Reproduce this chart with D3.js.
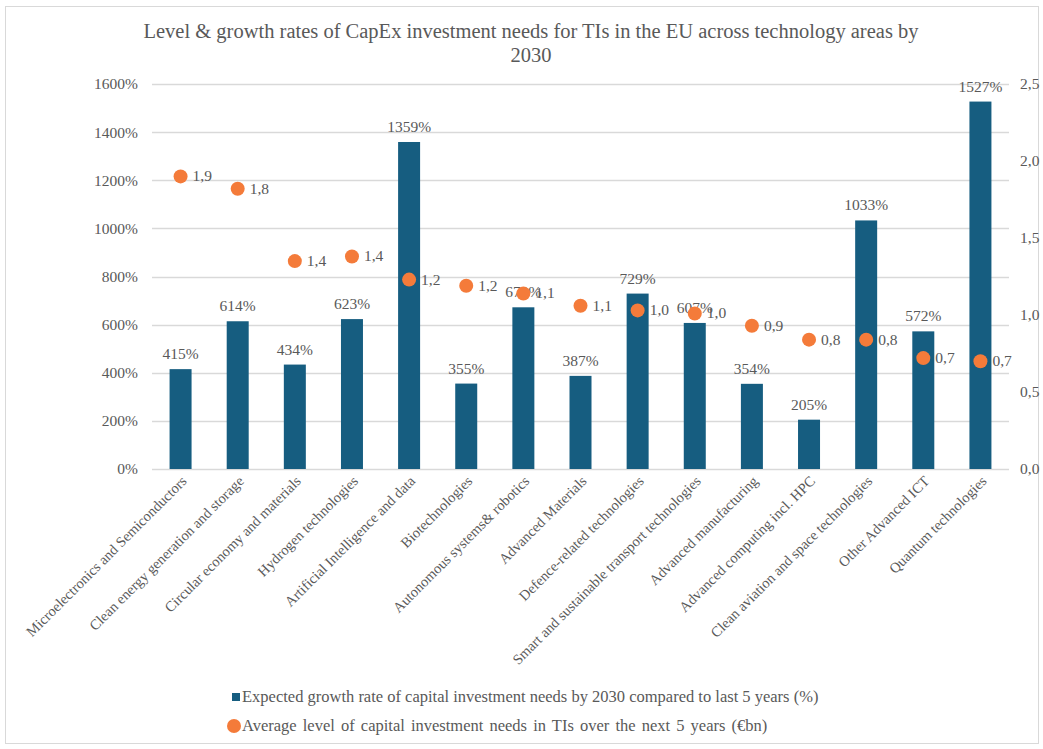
<!DOCTYPE html>
<html>
<head>
<meta charset="utf-8">
<script src="https://cdn.jsdelivr.net/npm/d3@7"></script>
<style>
body { margin: 0; background: #fff; }
</style>
</head>
<body>
<div id="chart"></div>
<script>
var categories = ["Microelectronics and Semiconductors", "Clean energy generation and storage",
    "Circular economy and materials", "Hydrogen technologies", "Artificial Intelligence and data",
    "Biotechnologies", "Autonomous systems& robotics", "Advanced Materials",
    "Defence-related technologies", "Smart and sustainable transport technologies",
    "Advanced manufacturing", "Advanced computing incl. HPC", "Clean aviation and space technologies",
    "Other Advanced ICT", "Quantum technologies"];
var growth = [415, 614, 434, 623, 1359, 355, 672, 387, 729, 607, 354, 205, 1033, 572, 1527];
var level = [1.90, 1.82, 1.35, 1.38, 1.23, 1.19, 1.14, 1.06, 1.03, 1.01, 0.93, 0.84, 0.84, 0.72, 0.70];
var leftTicks = [0, 200, 400, 600, 800, 1000, 1200, 1400, 1600];
var rightTicks = [0, 0.5, 1.0, 1.5, 2.0, 2.5];

var FONT = "'Liberation Serif', serif";
var W = 1043, H = 749;
var margin = {top: 84, right: 34, bottom: 280, left: 152};
var width = W - margin.left - margin.right,
    height = H - margin.top - margin.bottom;

var svg = d3.select("#chart").append("svg")
    .attr("width", W)
    .attr("height", H);

svg.append("rect")
    .attr("x", 5.5).attr("y", 6.5)
    .attr("width", W - 10).attr("height", H - 12)
    .attr("fill", "none")
    .attr("stroke", "#d9d9d9");

function txt(sel, size) {
    return sel.style("font-family", FONT).style("font-size", size + "px").attr("fill", "#595959");
}

txt(svg.append("text"), 20.5)
    .attr("text-anchor", "middle")
    .attr("x", 531).attr("y", 38)
    .text("Level & growth rates of CapEx investment needs for TIs in the EU across technology  areas by");
txt(svg.append("text"), 20.5)
    .attr("text-anchor", "middle")
    .attr("x", 531).attr("y", 62)
    .text("2030");

var g = svg.append("g")
    .attr("transform", "translate(" + margin.left + "," + margin.top + ")");

var x = d3.scaleBand().domain(categories).range([0, width]).paddingInner(0.615).paddingOuter(0.3075);
var y = d3.scaleLinear().domain([0, 1600]).range([height, 0]);
var y2 = d3.scaleLinear().domain([0, 2.5]).range([height, 0]);

// gridlines
g.selectAll(".grid")
    .data(leftTicks)
    .enter()
    .append("line")
        .attr("x1", 0).attr("x2", width)
        .attr("y1", function(d) { return Math.round(y(d)) + 0.5; })
        .attr("y2", function(d) { return Math.round(y(d)) + 0.5; })
        .attr("stroke", "#d9d9d9")
        .attr("stroke-width", 1.3);

// left axis
var yAxis = g.append("g")
    .call(d3.axisLeft(y).tickValues(leftTicks).tickSize(0).tickPadding(14).tickFormat(function(d) { return d + "%"; }));
yAxis.select(".domain").remove();
txt(yAxis.selectAll("text"), 15.5);

// right axis
var y2Axis = g.append("g")
    .attr("transform", "translate(" + width + ",0)")
    .call(d3.axisRight(y2).tickValues(rightTicks).tickSize(0).tickPadding(11).tickFormat(function(d) { return d3.format(".1f")(d).replace(".", ","); }));
y2Axis.select(".domain").remove();
txt(y2Axis.selectAll("text"), 15.5);

// x axis labels
var xAxis = g.append("g")
    .attr("transform", "translate(0," + height + ")")
    .call(d3.axisBottom(x).tickSize(0).tickPadding(0));
xAxis.select(".domain").remove();
txt(xAxis.selectAll("text"), 14.5)
    .attr("text-anchor", "end")
    .attr("dy", "0")
    .attr("transform", "translate(7,13) rotate(-45)");

// bars
g.selectAll(".bar")
    .data(growth)
    .enter()
    .append("rect")
        .attr("x", function(d, i) { return x(categories[i]); })
        .attr("y", function(d) { return y(d); })
        .attr("width", x.bandwidth())
        .attr("height", function(d) { return height - y(d); })
        .attr("fill", "#165d80");

txt(g.selectAll(".barlabel")
    .data(growth)
    .enter()
    .append("text"), 15.5)
        .attr("text-anchor", "middle")
        .attr("x", function(d, i) { return x(categories[i]) + x.bandwidth() / 2; })
        .attr("y", function(d) { return y(d) - 10; })
        .text(function(d) { return d + "%"; });

// dots
g.selectAll(".dot")
    .data(level)
    .enter()
    .append("circle")
        .attr("r", 7)
        .attr("cx", function(d, i) { return x(categories[i]) + x.bandwidth() / 2; })
        .attr("cy", function(d) { return y2(d); })
        .attr("fill", "#f47b3a");

txt(g.selectAll(".dotlabel")
    .data(level)
    .enter()
    .append("text"), 15.5)
        .attr("x", function(d, i) { return x(categories[i]) + x.bandwidth() / 2 + 12; })
        .attr("y", function(d) { return y2(d) + 5; })
        .text(function(d) { return d3.format(".1f")(d).replace(".", ","); });

// legend
svg.append("rect")
    .attr("x", 232).attr("y", 693)
    .attr("width", 8).attr("height", 8)
    .attr("fill", "#165d80");
txt(svg.append("text"), 16.5)
    .attr("x", 242).attr("y", 702)
    .text("Expected growth rate of capital investment needs by 2030 compared to last 5 years (%)");
svg.append("circle")
    .attr("cx", 234).attr("cy", 726)
    .attr("r", 7)
    .attr("fill", "#f47b3a");
txt(svg.append("text"), 16.5)
    .attr("x", 242).attr("y", 731)
    .style("word-spacing", "2px")
    .text("Average level  of capital investment needs in TIs  over the next 5 years (€bn)");
</script>
</body>
</html>
